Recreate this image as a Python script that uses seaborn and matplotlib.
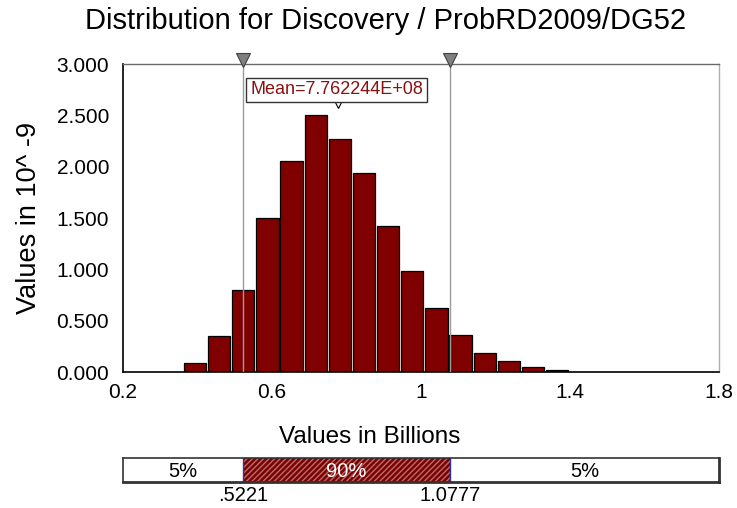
import numpy as np
import pandas as pd
import matplotlib
matplotlib.use("Agg")
import matplotlib.pyplot as plt
import matplotlib.transforms as mtransforms
from matplotlib.patches import Rectangle
import seaborn as sns

# datos
bin_left = 0.361
bin_width = 0.0648
densidad = [0.088, 0.353, 0.804, 1.504, 2.053, 2.500, 2.273, 1.939,
            1.426, 0.985, 0.628, 0.363, 0.191, 0.113, 0.048, 0.019]
p5 = 0.5221
p95 = 1.0777
media = 0.7762244
media_txt = "Mean=7.762244E+08"
x_ticks = [0.2, 0.6, 1.0, 1.4, 1.8]
x_tick_labels = ["0.2", "0.6", "1", "1.4", "1.8"]
y_ticks = [0.0, 0.5, 1.0, 1.5, 2.0, 2.5, 3.0]
pct_labels = ["5%", "90%", "5%"]

sns.set_style("white")
plt.rcParams["font.family"] = ["Liberation Sans", "DejaVu Sans"]
plt.rcParams["text.color"] = "black"
plt.rcParams["axes.labelcolor"] = "black"

n_bins = len(densidad)
bin_right = bin_left + bin_width * n_bins
centros = bin_left + bin_width * (np.arange(n_bins) + 0.5)
data = pd.DataFrame({"centro": centros, "densidad": densidad})

W, H = 737, 508
fig = plt.figure(figsize=(W / 100, H / 100), dpi=100)
ax = fig.add_axes([123 / W, 1 - 372.3 / H, 596 / W, (372.3 - 64) / H])

##histograma
sns.histplot(data=data, x="centro", weights="densidad", bins=n_bins,
             binrange=(bin_left, bin_right), ax=ax,
             color="#800000", alpha=1, edgecolor="black", linewidth=0.9,
             shrink=0.92)

ax.set_xlim(0.2, 1.8)
ax.set_ylim(0, 3.0)
ax.set_xticks(x_ticks)
ax.set_xticklabels(x_tick_labels)
ax.set_yticks(y_ticks)
ax.set_yticklabels(["%.3f" % v for v in y_ticks])
ax.tick_params(axis="x", direction="inout", length=12, width=1, labelsize=15, pad=2, colors="black")
ax.tick_params(axis="y", direction="out", length=9, width=1, labelsize=15, pad=1, colors="black")
ax.set_xlabel("")
ax.set_ylabel("Values in 10^ -9", fontsize=19.5, labelpad=10)

for s in ["left", "bottom"]:
    ax.spines[s].set_color("black")
    ax.spines[s].set_linewidth(1.2)
ax.spines["top"].set_color("#6a6a6a")
ax.spines["right"].set_color("#b0b0b0")
ax.spines["top"].set_linewidth(1.0)
ax.spines["right"].set_linewidth(1.0)

##lineas de percentiles
trans = mtransforms.blended_transform_factory(ax.transData, ax.transAxes)
for p in [p5, p95]:
    ax.axvline(p, color="#9a9a9a", linewidth=1.0, zorder=5)
    ax.plot([p], [1.012], marker="v", markersize=10, color="#808080",
            markeredgecolor="#404040", markeredgewidth=0.8, transform=trans,
            clip_on=False, zorder=6)

##marcador de media
ax.plot([media], [0.872], marker="v", markersize=7, color="white",
        markeredgecolor="black", markeredgewidth=0.8, transform=trans,
        clip_on=False, zorder=6)
ax.text(media - 0.003, 0.916, media_txt, transform=trans, ha="center", va="center",
        fontsize=13, color="#8b1010", zorder=7,
        bbox=dict(boxstyle="square,pad=0.2", facecolor="white", edgecolor="#333333", linewidth=1))

fig.text(386 / W, 1 - 21 / H, "Distribution for Discovery / ProbRD2009/DG52",
         ha="center", va="center", fontsize=21)
fig.text(370 / W, 1 - 437 / H, "Values in Billions", ha="center", va="center", fontsize=17.5)

##barra de percentiles
bx = fig.add_axes([123 / W, 1 - 482 / H, 596 / W, 24 / H])
bx.set_xlim(0.2, 1.8)
bx.set_ylim(0, 1)
bx.add_patch(Rectangle((0.2, 0), p5 - 0.2, 1, facecolor="white", edgecolor="none"))
bx.add_patch(Rectangle((p95, 0), 1.8 - p95, 1, facecolor="white", edgecolor="none"))
bx.add_patch(Rectangle((p5, 0), p95 - p5, 1, facecolor="#800000", edgecolor="#b07070",
                       hatch="//////", linewidth=0))
bx.axvline(p5, color="#3030a0", linewidth=1)
bx.axvline(p95, color="#3030a0", linewidth=1)
centros_seg = [(0.2 + p5) / 2, (p5 + p95) / 2, (p95 + 1.8) / 2]
colores_seg = ["black", "white", "black"]
for c, t, col in zip(centros_seg, pct_labels, colores_seg):
    bx.text(c, 0.42, t, ha="center", va="center", fontsize=14.5, color=col)
bx.set_xticks([])
bx.set_yticks([])
for s in bx.spines.values():
    s.set_color("#333333")
    s.set_linewidth(1.2)
bx.spines["bottom"].set_linewidth(2)
bx.spines["right"].set_linewidth(2)
bx.text(p5, -0.55, ".5221", ha="center", va="center", fontsize=14.5)
bx.text(p95, -0.55, "1.0777", ha="center", va="center", fontsize=14.5)

fig.savefig("out.png", dpi=100)
